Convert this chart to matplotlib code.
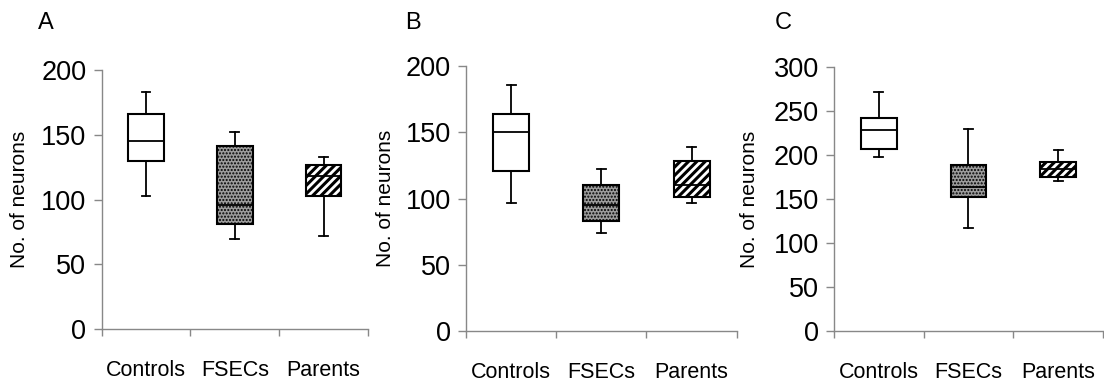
import matplotlib
matplotlib.use('Agg')
from matplotlib import pyplot as plt

plt.rcParams['font.family'] = ['Liberation Sans', 'DejaVu Sans']
plt.rcParams['hatch.linewidth'] = 2.2

groups = ['Controls', 'FSECs', 'Parents']
panel_letters = ['A', 'B', 'C']

# box summaries per panel: lower whisker, q1, median, q3, upper whisker
lo_whisker = [[103, 70, 72], [97, 74, 97], [197, 117, 170]]
q1 = [[130, 81, 103], [121, 83, 101], [207, 152, 175]]
medians = [[145, 96, 118], [150, 95, 110], [228, 164, 184]]
q3 = [[166, 141, 127], [164, 110, 128], [242, 189, 192]]
hi_whisker = [[183, 152, 133], [186, 122, 139], [271, 229, 205]]

y_max = [200, 200, 300]

# panel rectangles in figure fractions
positions = [[0.0921, 0.1447, 0.2412, 0.6735],
             [0.4221, 0.1400, 0.2452, 0.6886],
             [0.7554, 0.1400, 0.2437, 0.6868]]
letter_x = [0.034, 0.367, 0.702]
ylabel_x = [0.018, 0.349, 0.679]

fills = ['white', '#9c9c9c', 'white']
hatches = [None, '.....', '////']

fig = plt.figure(figsize=(11.04, 3.85), dpi=100)

for p in range(3):
    ax = fig.add_axes(positions[p])
    stats = []
    for g in range(3):
        stats.append({'whislo': lo_whisker[p][g], 'q1': q1[p][g], 'med': medians[p][g],
                      'q3': q3[p][g], 'whishi': hi_whisker[p][g], 'label': groups[g]})
    bp = ax.bxp(stats, positions=[1, 2, 3], widths=0.4, showfliers=False,
                patch_artist=True, showcaps=True,
                boxprops=dict(edgecolor='black', linewidth=1.5),
                medianprops=dict(color='black', linewidth=1.3),
                whiskerprops=dict(color='black', linewidth=1.3),
                capprops=dict(color='black', linewidth=1.3))
    for i, box in enumerate(bp['boxes']):
        box.set_facecolor(fills[i])
        if hatches[i]:
            box.set_hatch(hatches[i])
    # fine stipple on the FSECs box
    if hasattr(bp['boxes'][1], 'set_hatch_linewidth'):
        bp['boxes'][1].set_hatch_linewidth(1.0)
    for cap in bp['caps']:
        x0, x1 = cap.get_xdata()
        c = (x0 + x1) / 2
        cap.set_xdata([c - 0.05, c + 0.05])

    ax.set_xlim(0.5, 3.5)
    ax.set_ylim(0, y_max[p])
    ax.set_yticks(range(0, y_max[p] + 1, 50))
    ax.set_xticks([1, 2, 3])
    ax.set_xticklabels(groups, fontsize=15.5)
    ax.set_xticks([0.5, 1.5, 2.5, 3.5], minor=True)
    ax.tick_params(axis='x', which='major', length=0, pad=22)
    ax.tick_params(axis='x', which='minor', length=5, color='#888888', width=1)
    ax.tick_params(axis='y', length=6, color='#888888', width=1, labelsize=19.5, pad=5)

    for side in ['top', 'right']:
        ax.spines[side].set_visible(False)
    for side in ['left', 'bottom']:
        ax.spines[side].set_color('#888888')
        ax.spines[side].set_linewidth(1)
    ax.spines['bottom'].set_bounds(0.5, 3.5)

    fig.text(ylabel_x[p], positions[p][1] + positions[p][3] / 2, 'No. of neurons',
             rotation=90, fontsize=15, va='center', ha='center')
    fig.text(letter_x[p], 0.925, panel_letters[p], fontsize=17, ha='left', va='baseline')

fig.savefig('out.png', dpi=100)
